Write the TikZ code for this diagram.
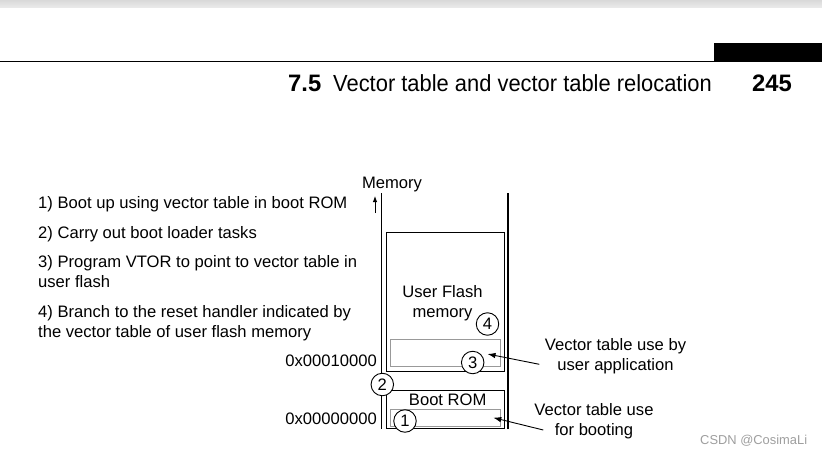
\documentclass[tikz,border=0pt]{standalone}
\usepackage{fontspec}
\setmainfont{Liberation Sans}
\newfontfamily\headfont[FakeStretch=0.94]{Liberation Sans}
\usetikzlibrary{arrows.meta}
\begin{document}
\begin{tikzpicture}[x=1pt,y=-1pt,
    txt/.style={inner sep=0pt,font=\fontsize{16.6}{20}\selectfont},
    head/.style={anchor=base west,inner sep=0pt,font=\fontsize{23.3}{28}\selectfont},
    num/.style={circle,draw,fill=white,line width=0.9pt,minimum size=22.5pt,inner sep=0pt,font=\fontsize{16.6}{20}\selectfont},
    ptr/.style={line width=0.9pt,-{Latex[length=8pt,width=5.5pt]}},
    blk/.style={line width=1pt},
    vtab/.style={line width=1pt,draw=black!40}]
  \useasboundingbox (0,0) rectangle (822,455);
  % page header
  \shade[top color=black!15,bottom color=black!8] (0,0) rectangle (822,7.5);
  \fill (714,43) rectangle (822,61);
  \draw[line width=1.7pt] (0,61.5) -- (822,61.5);
  \node[head,font=\fontsize{23.8}{28}\selectfont\bfseries] (secno) at (288,91) {7.5};
  \node[head,font=\fontsize{23.3}{28}\headfont] (sectitle) at (333,91) {Vector table and vector table relocation};
  \node[head,font=\fontsize{23.8}{28}\selectfont\bfseries] (pageno) at (752,91) {245};
  % steps
  \node[txt,anchor=base west] (step1) at (38,208.3) {1) Boot up using vector table in boot ROM};
  \node[txt,anchor=base west] (step2) at (38,238.7) {2) Carry out boot loader tasks};
  \node[txt,anchor=base west,align=left] (step3) at (38,287.7) {3) Program VTOR to point to vector table in\\user flash};
  \node[txt,anchor=base west,align=left] (step4) at (38,337.7) {4) Branch to the reset handler indicated by\\the vector table of user flash memory};
  % memory map
  \node[txt,anchor=base] (memlbl) at (392,188.3) {Memory};
  \coordinate (memtail) at (375,213);
  \coordinate (memtip) at (375,196);
  \draw[line width=0.9pt,-{Latex[length=6pt,width=4.5pt]}] (memtail) -- (memtip);
  \draw[line width=1.2pt] (381.7,193) -- (381.7,428.5);
  \draw[line width=1.2pt] (508,193) -- (508,428.5);
  \draw[blk] (386,232.3) rectangle (504.3,371);
  \draw[vtab] (390,339) rectangle (500.5,366.5);
  \draw[blk] (386,390) rectangle (504.3,428.5);
  \draw[vtab] (390,409.3) rectangle (500.5,426);
  \node[txt,anchor=base,align=center] (flashlbl) at (442.5,317.5) {User Flash\\memory};
  \node[txt,anchor=base] (romlbl) at (447.7,405.3) {Boot ROM};
  \node[txt,anchor=base east] (flashaddr) at (377,366) {0x00010000};
  \node[txt,anchor=base east] (romaddr) at (377,424.3) {0x00000000};
  \node[num] (n4) at (487.5,324) {4};
  \node[num] (n3) at (472.7,362.5) {3};
  \node[num] (n2) at (382.3,384.5) {2};
  \node[num] (n1) at (405,421) {1};
  % notes
  \node[txt,anchor=base,align=center] (vtuser) at (615.5,370) {Vector table use by\\user application};
  \node[txt,anchor=base,align=center] (vtboot) at (594,435.3) {Vector table use\\for booting};
  \coordinate (usertail) at (539.3,364.3);
  \coordinate (usertip) at (487.5,354);
  \coordinate (boottail) at (543.3,430);
  \coordinate (boottip) at (493.3,417.7);
  \draw[ptr] (usertail) -- (usertip);
  \draw[ptr] (boottail) -- (boottip);
  \node[anchor=base west,inner sep=0pt,font=\fontsize{12.9}{15}\selectfont,text=black!38] (mark) at (700,444.5) {CSDN @CosimaLi};
\end{tikzpicture}
\end{document}
